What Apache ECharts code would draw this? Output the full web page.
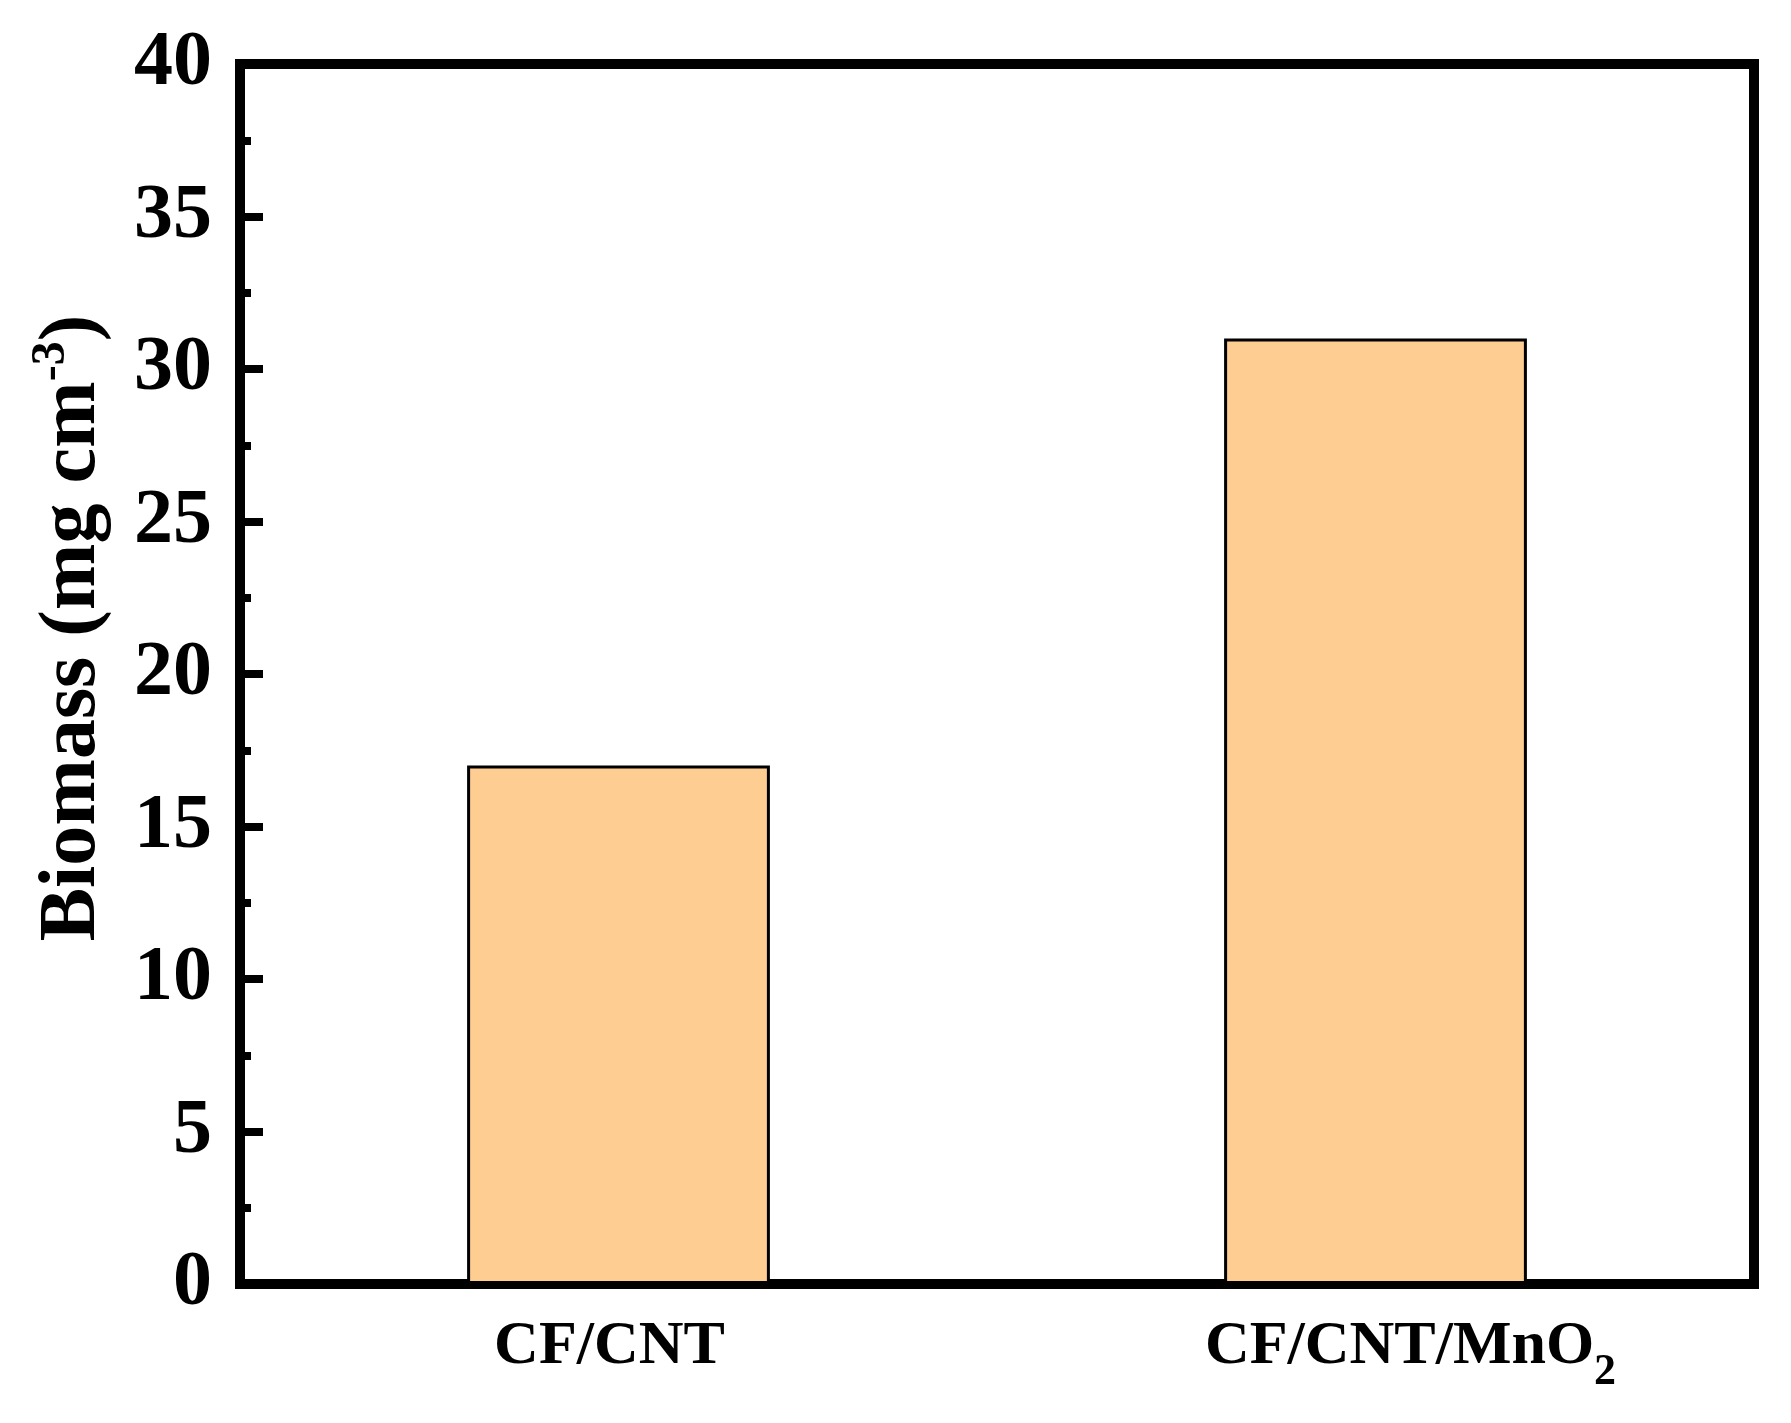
<!DOCTYPE html>
<html>
<head>
<meta charset="utf-8">
<script src="https://cdn.jsdelivr.net/npm/echarts@6/dist/echarts.min.js"></script>
<style>
html,body{margin:0;padding:0;background:#fff;}
#chart{width:1791px;height:1423px;}
</style>
</head>
<body>
<div id="chart"></div>
<script>
const categories = ['CF/CNT', 'CF/CNT/MnO2'];
const biomass = [17, 31];
const yTicks = [0, 5, 10, 15, 20, 25, 30, 35, 40];

const FONT = "'Times New Roman', 'Liberation Serif', serif";
const chart = echarts.init(document.getElementById('chart'), null, {renderer: 'canvas'});

chart.setOption({
  animation: false,
  backgroundColor: '#ffffff',
  grid: {
    left: 240, right: 37, top: 64, bottom: 139,
    show: true, borderColor: '#000', borderWidth: 10, backgroundColor: 'transparent'
  },
  xAxis: {
    type: 'category',
    data: categories,
    axisLine: {show: true, lineStyle: {color: '#000', width: 10}},
    axisTick: {show: false},
    axisLabel: {
      margin: 15,
      fontFamily: FONT,
      fontWeight: 'bold',
      color: '#000',
      formatter: function (v, i) {
        let body = '{n|' + v.replace(/O2$/, 'O') + '}' + (/O2$/.test(v) ? '{s|2}' : '');
        if (i === 0) body = body + '{g1|}';
        else body = '{g2|}' + body;
        return body;
      },
      rich: {
        n: {fontSize: 62, fontWeight: 'bold', fontFamily: FONT, color: '#000', lineHeight: 96, verticalAlign: 'middle'},
        s: {fontSize: 44, fontWeight: 'bold', fontFamily: FONT, color: '#000', lineHeight: 44, padding: [52, 0, 0, 0], verticalAlign: 'bottom'},
        g1: {width: 18, lineHeight: 96},
        g2: {width: 70, lineHeight: 96}
      }
    }
  },
  yAxis: {
    type: 'value',
    min: yTicks[0],
    max: yTicks[yTicks.length - 1],
    interval: 5,
    name: '{t|Biomass (mg cm}{sup|-3}{t|)}',
    nameLocation: 'middle',
    nameGap: 122,
    nameTextStyle: {
      padding: [0, 0, 0, 92],
      rich: {
        t: {fontSize: 80, fontWeight: 'bold', fontFamily: FONT, color: '#000', lineHeight: 90},
        sup: {fontSize: 48, fontWeight: 'bold', fontFamily: FONT, color: '#000', lineHeight: 48, verticalAlign: 'top'}
      }
    },
    axisLine: {show: true, lineStyle: {color: '#000', width: 10}},
    axisTick: {show: true, inside: true, length: 23, lineStyle: {color: '#000', width: 8}},
    minorTick: {show: true, splitNumber: 2, length: 11, lineStyle: {color: '#000', width: 8}},
    splitLine: {show: false},
    axisLabel: {
      margin: 28,
      fontSize: 78,
      fontWeight: 'bold',
      fontFamily: FONT,
      color: '#000'
    }
  },
  series: [{
    type: 'bar',
    data: biomass,
    barWidth: '40%',
    itemStyle: {color: '#FECD92', borderColor: '#000', borderWidth: 3}
  }]
});
</script>
</body>
</html>
